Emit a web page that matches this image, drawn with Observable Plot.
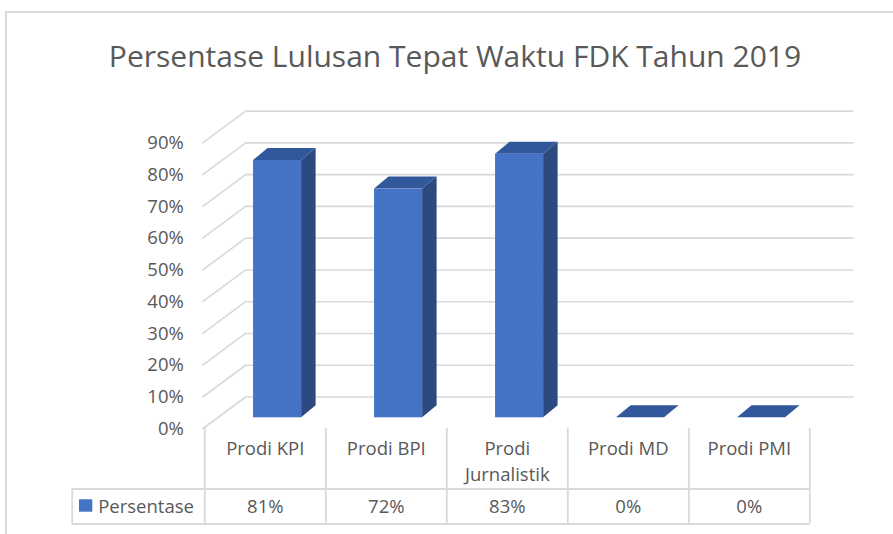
<!DOCTYPE html>
<html>
<head>
<meta charset="utf-8">
<script src="https://cdn.jsdelivr.net/npm/d3@7"></script>
<script src="https://cdn.jsdelivr.net/npm/@observablehq/plot@0.6"></script>
<style>
  body { margin: 0; background: #fff; width: 893px; height: 534px; overflow: hidden; position: relative; }
  #frame { position: absolute; left: 5px; top: 11px; width: 900px; height: 540px; border: 2px solid #d9d9d9; box-sizing: border-box; }
  #title { position: absolute; left: 0; top: 41px; width: 910px; text-align: center; font-family: "Open Sans", sans-serif; font-size: 30px; line-height: 30px; color: #595959; white-space: nowrap; }
  #chart { position: absolute; left: 0; top: 0; }
</style>
</head>
<body>
<div id="frame"></div>
<div id="title"></div>
<div id="chart"></div>
<script>
// ---- data ----
const chartTitle = "Persentase Lulusan Tepat Waktu FDK Tahun 2019";
const seriesName = "Persentase";
const categories = ["Prodi KPI", "Prodi BPI", "Prodi Jurnalistik", "Prodi MD", "Prodi PMI"];
const categoryLabels = ["Prodi KPI", "Prodi BPI", "Prodi\nJurnalistik", "Prodi MD", "Prodi PMI"];
const values = [0.81, 0.72, 0.83, 0, 0];
const valueLabels = ["81%", "72%", "83%", "0%", "0%"];
const yTicks = [0, 0.1, 0.2, 0.3, 0.4, 0.5, 0.6, 0.7, 0.8, 0.9];

document.getElementById("title").textContent = chartTitle;

// ---- geometry (in scale units) ----
const PXX = 121, PXY = 317.67;           // pixels per x unit / y unit
const backDx = 42 / PXX, backDy = 32 / PXY;   // back wall offset
const faceX1 = 0.403, faceX2 = 0.8;           // bar front face within band
const lift = 11.2 / PXY;                      // bar base lift (depth)
const sideDx = 14.5 / PXX, sideDy = 12 / PXY; // bar depth
const rowMid = -60 / PXY, rowBottom = -95 / PXY;
const legendLeft = -132.6 / PXX;
const headerY = -7.5 / PXY, valueY = -78.5 / PXY;

const bars = categories.map((c, i) => ({c, i, v: values[i]}));
const sidePts = bars.filter(d => d.v > 0).flatMap(d => [
  {c: d.c, x: d.i + faceX2, y1: lift, y2: d.v + lift},
  {c: d.c, x: d.i + faceX2 + sideDx, y1: lift + sideDy, y2: d.v + lift + sideDy}
]);
const topPts = bars.flatMap(d => [
  {c: d.c, y: d.v + lift, x1: d.i + faceX1, x2: d.i + faceX2},
  {c: d.c, y: d.v + lift + sideDy, x1: d.i + faceX1 + sideDx, x2: d.i + faceX2 + sideDx}
]);

const grid = "#d9d9d9";
const txt = "#595959";

const plot = Plot.plot({
  width: 893,
  height: 534,
  marginLeft: 204.3,
  marginRight: 83.7,
  marginTop: 142.6,
  marginBottom: 105.5,
  style: {fontFamily: "Open Sans, sans-serif", background: "transparent"},
  x: {type: "linear", domain: [0, categories.length], axis: null},
  y: {domain: [0, 0.9], axis: null},
  marks: [
    // back wall gridlines
    Plot.ruleY(yTicks, {y: d => d + backDy, x1: backDx - 0.01, x2: categories.length + backDx + 0.02, stroke: grid, strokeWidth: 1.6}),
    // side wall diagonals
    Plot.link(yTicks, {x1: -0.02, y1: d => d, x2: backDx - 0.01, y2: d => d + backDy, stroke: grid, strokeWidth: 1.6}),
    // y axis labels
    Plot.axisY({ticks: yTicks, tickFormat: d3.format(".0%"), tickSize: 0, tickPadding: 21, fontSize: 18.5, color: txt, anchor: "left"}),
    // bars: side faces
    Plot.areaY(sidePts, {x: "x", y1: "y1", y2: "y2", z: "c", fill: "#2c4a80", curve: "linear"}),
    // bars: top faces
    Plot.areaX(topPts, {y: "y", x1: "x1", x2: "x2", z: "c", fill: "#31589b", curve: "linear"}),
    // bars: front faces
    Plot.rect(bars.filter(d => d.v > 0), {x1: d => d.i + faceX1, x2: d => d.i + faceX2, y1: lift, y2: d => d.v + lift, fill: "#4472c4"}),
    // data table grid
    Plot.ruleX(d3.range(categories.length + 1), {x: d => d, y1: 0.002, y2: rowBottom, stroke: grid, strokeWidth: 1.8}),
    Plot.ruleX([legendLeft], {x: d => d, y1: rowMid, y2: rowBottom, stroke: grid, strokeWidth: 1.8}),
    Plot.ruleY([rowMid, rowBottom], {y: d => d, x1: legendLeft, x2: categories.length, stroke: grid, strokeWidth: 1.8}),
    // table header labels
    Plot.text(categoryLabels, {x: (d, i) => i + 0.5, y: headerY, text: d => d, lineAnchor: "top", lineHeight: 1.42, fontSize: 18.5, fill: txt}),
    // table values
    Plot.text(valueLabels, {x: (d, i) => i + 0.5, y: valueY, text: d => d, fontSize: 18.5, fill: txt}),
    // legend key
    Plot.rect([seriesName], {x1: -125.3 / PXX, x2: -112 / PXX, y1: -70.8 / PXY, y2: -83.2 / PXY, fill: "#4472c4"}),
    Plot.text([seriesName], {x: -106.6 / PXX, y: valueY, text: d => d, textAnchor: "start", fontSize: 18.5, fill: txt})
  ]
});
document.getElementById("chart").append(plot);
</script>
</body>
</html>
